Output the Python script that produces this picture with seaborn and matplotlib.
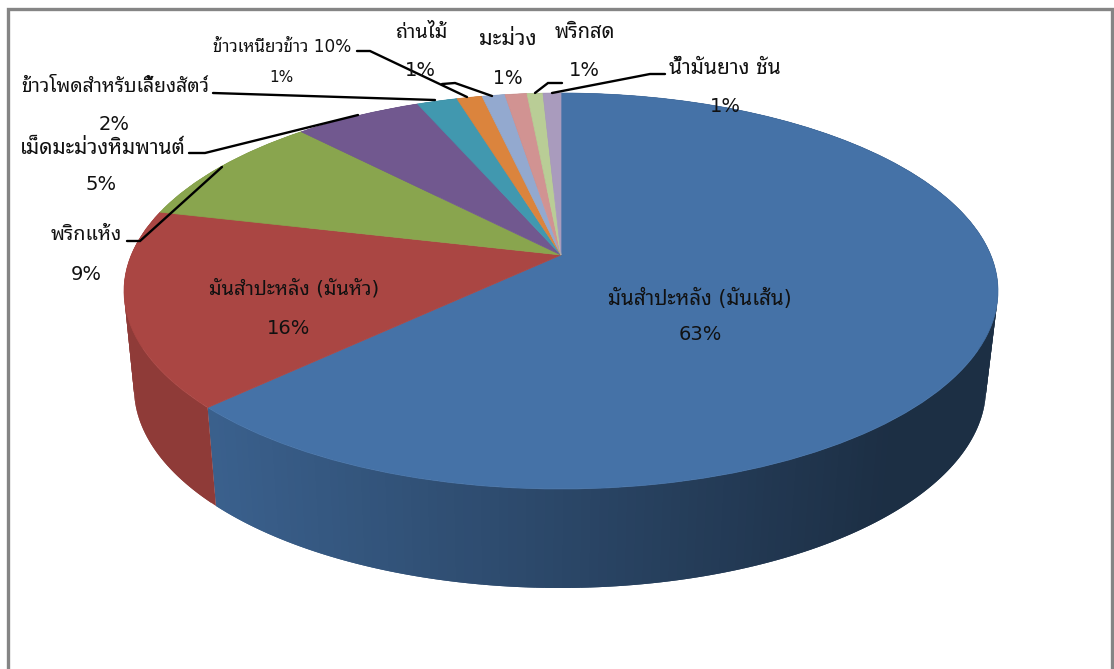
# 3D style pie chart of exported crops (Excel look)

import numpy as np
import matplotlib
matplotlib.use('Agg')
import matplotlib.pyplot as plt
import seaborn as sns
from matplotlib.transforms import Transform

sns.set_theme(style='white')
plt.rcParams['font.family'] = ['DejaVu Sans', 'Noto Sans Thai Looped', 'Noto Sans Thai']

# Data
crops = ['มันสำปะหลัง (มันเส้น)', 'มันสำปะหลัง (มันหัว)', 'พริกแห้ง', 'เม็ดมะม่วงหิมพานต์',
         'ข้าวโพดสำหรับเลี้ยงสัตว์', 'ข้าวเหนียวข้าว 10%', 'ถ่านไม้', 'มะม่วง', 'พริกสด', 'น้ำมันยาง ชัน']
shares = [62.75, 16.0, 9.25, 5.63, 1.78, 1.12, 1.01, 0.97, 0.70, 0.79]
share_labels = ['63%', '16%', '9%', '5%', '2%', '1%', '1%', '1%', '1%', '1%']

# Office 2007 chart colours
colors = ['#4572A7', '#AA4643', '#89A54E', '#71588F', '#4198AF',
          '#DB843D', '#93A9CF', '#D19392', '#B9CD96', '#A99BBD']

# Label layout in pixels: name centre, percent centre, font size
name_pos = [(700, 298), (294, 289), (86, 235), (103, 148), (115, 87),
            (282, 47), (421, 32), (508, 39), (585, 32), (725, 68)]
pct_pos = [(700, 335), (289, 328), (86, 274), (101, 185), (114, 124),
           (281, 77), (420, 70), (508, 78), (584, 71), (725, 106)]
name_sizes = [14.8, 14.3, 14.3, 15, 14, 12.2, 14.3, 15.5, 14.5, 15]
pct_sizes = [14, 14, 14, 14, 14, 11, 14, 13.5, 14, 14]

# Leader lines in pixels
leaders = [[(127, 241), (140, 241), (222, 167)],
           [(189, 153), (205, 153), (358, 115)],
           [(213, 93), (435, 100)],
           [(357, 51), (370, 51), (467, 97)],
           [(442, 84), (455, 83), (492, 96)],
           [(562, 83), (548, 83), (535, 93)],
           [(665, 74), (650, 74), (552, 93)]]


class Tilt(Transform):
    """Perspective map of the unit circle onto an ellipse with an off-centre apex."""
    input_dims = 2
    output_dims = 2
    is_affine = False

    def __init__(self, cx, cy, rx, ry, offset):
        super().__init__()
        self.cx, self.cy, self.rx, self.ry, self.offset = cx, cy, rx, ry, offset

    def transform_non_affine(self, values):
        values = np.asarray(values, dtype=float)
        x, y = values[:, 0], values[:, 1]
        c = self.offset / self.ry
        k = self.rx * np.sqrt(1 - c ** 2)
        w = 1 + c * y
        return np.column_stack([self.cx + k * x / w,
                                self.cy - (self.ry * y + self.offset) / w])


top = Tilt(561, 291, 437, 198, 36)
bottom = Tilt(560, 388, 426, 200, 36)

fig = plt.figure(figsize=(11.14, 6.69), dpi=100)
ax = fig.add_axes([0, 0, 1, 1])


def shade(px):
    # Side walls get darker from left to right
    return np.clip(0.84 - 0.43 * (px - 217) / (880 - 217), 0.41, 0.84)


# Side wall, thin strips that overlap the next one so no seams show
edges = 90 - 360 * np.cumsum([0] + shares) / sum(shares)
for color, a0, a1 in zip(colors, edges[:-1], edges[1:]):
    steps = max(int(abs(a1 - a0) / 1.0), 2)
    ang = np.radians(np.linspace(a0, a1, steps + 1))
    unit = np.column_stack([np.cos(ang), np.sin(ang)])
    upper = top.transform_non_affine(unit)
    lower = bottom.transform_non_affine(unit)
    base = np.array(matplotlib.colors.to_rgb(color))
    for i in range(steps):
        quad = np.vstack([upper[i:i + 3], lower[i:i + 3][::-1]])
        tone = base * shade(quad[:, 0].mean())
        ax.fill(quad[:, 0], quad[:, 1], color=tone, lw=0, zorder=1)

# Top face
wedges, _ = ax.pie(shares, colors=colors, startangle=90, counterclock=False, radius=1)
for w, color in zip(wedges, colors):
    w.set_transform(top + ax.transData)
    w.set_zorder(2)
    w.set_edgecolor(color)
    w.set_linewidth(0.5)

ax.set_aspect('auto')
ax.set_xlim(0, 1114)
ax.set_ylim(669, 0)
ax.axis('off')

# Leader lines
for line in leaders:
    xs, ys = zip(*line)
    ax.plot(xs, ys, color='black', lw=1.7, zorder=3, solid_joinstyle='miter')

# Labels
for name, pct, np_, pp, ns, ps in zip(crops, share_labels, name_pos, pct_pos, name_sizes, pct_sizes):
    ax.text(np_[0], np_[1], name, fontsize=ns, ha='center', va='center', color='#111111', zorder=4)
    ax.text(pp[0], pp[1], pct, fontsize=ps, ha='center', va='center', color='#111111', zorder=4)

# Grey frame, open at the bottom
ax.plot([8, 8, 1112, 1112], [669, 9, 9, 669], color='#858585', lw=2.4, zorder=5,
        solid_joinstyle='miter')

fig.savefig('out.png', dpi=100)
